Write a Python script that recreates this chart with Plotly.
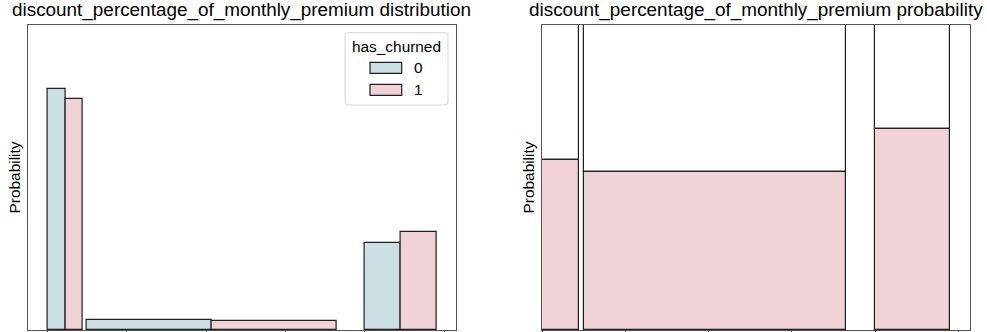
import plotly.graph_objects as go

# Discount bins (percent of monthly premium)
bin_lo = [0.0, 2.5, 20.0]
bin_hi = [2.25, 18.25, 24.5]

# Share of customers in each bin, per churn group
prob_stay = [0.712, 0.031, 0.256]    # has_churned = 0
prob_churn = [0.683, 0.027, 0.290]   # has_churned = 1

# Fraction of churned customers inside each bin
churn_share = [0.558, 0.518, 0.660]

x_ticks = [0, 5, 10, 15, 20, 25]
hue_labels = ["0", "1"]

BLUE = "rgb(202,222,227)"
PINK = "rgb(240,210,215)"
EDGE = "#1f1f1f"
SPINE = "#555555"
FONT = "Liberation Sans, Arial, sans-serif"

W, H = 987, 332
M_T, M_B = 25, 2

fig = go.Figure()

# Left panel: dodged histogram bars
widths = [hi - lo for lo, hi in zip(bin_lo, bin_hi)]
fig.add_trace(go.Bar(
    x=[lo + w / 4 for lo, w in zip(bin_lo, widths)],
    y=prob_stay,
    width=[w / 2 for w in widths],
    marker=dict(color=BLUE, line=dict(color=EDGE, width=1.2)),
    name=hue_labels[0], showlegend=False, xaxis="x", yaxis="y",
))
fig.add_trace(go.Bar(
    x=[lo + 3 * w / 4 for lo, w in zip(bin_lo, widths)],
    y=prob_churn,
    width=[w / 2 for w in widths],
    marker=dict(color=PINK, line=dict(color=EDGE, width=1.2)),
    name=hue_labels[1], showlegend=False, xaxis="x", yaxis="y",
))

# Right panel: filled (stacked to 1) bars
centers = [(lo + hi) / 2 for lo, hi in zip(bin_lo, bin_hi)]
fig.add_trace(go.Bar(
    x=centers, y=[1 - s for s in churn_share], base=churn_share, width=widths,
    marker=dict(color="white", line=dict(color=EDGE, width=1.2)),
    name=hue_labels[0], showlegend=False, xaxis="x2", yaxis="y2",
))
fig.add_trace(go.Bar(
    x=centers, y=churn_share, width=widths,
    marker=dict(color=PINK, line=dict(color=EDGE, width=1.2)),
    name=hue_labels[1], showlegend=False, xaxis="x2", yaxis="y2",
))

axis_common = dict(
    showgrid=False, zeroline=False, showline=True, mirror=True,
    linecolor=SPINE, linewidth=1.25, automargin=False,
)

fig.update_layout(
    width=W, height=H,
    margin=dict(l=0, r=0, t=M_T, b=M_B, pad=0, autoexpand=False),
    paper_bgcolor="white", plot_bgcolor="white",
    barmode="overlay", bargap=0,
    font=dict(family=FONT, color="#000000"),
    xaxis=dict(domain=[27.7 / W, 456 / W], range=[-1.24, 25.74],
               tickvals=x_ticks, ticks="outside", ticklen=4, tickwidth=1.2,
               tickcolor="#333333", showticklabels=False, anchor="y", **axis_common),
    yaxis=dict(domain=[0, 1], range=[0, 0.902], ticks="", showticklabels=False,
               anchor="x", title=dict(text="Probability", font=dict(size=15.4), standoff=2),
               **axis_common),
    xaxis2=dict(domain=[542 / W, 970 / W], range=[0, 25.7],
                tickvals=x_ticks, ticks="outside", ticklen=4, tickwidth=1.2,
                tickcolor="#333333", showticklabels=False, anchor="y2", **axis_common),
    yaxis2=dict(domain=[0, 1], range=[0, 1], ticks="", showticklabels=False,
                anchor="x2", title=dict(text="Probability", font=dict(size=15.4), standoff=2),
                **axis_common),
)

# Panel titles
for xdom, text in [((27.7 / W + 456 / W) / 2, "discount_percentage_of_monthly_premium distribution"),
                   ((542 / W + 970 / W) / 2, "discount_percentage_of_monthly_premium probability")]:
    fig.add_annotation(x=xdom, y=1, xref="paper", yref="paper", xanchor="center",
                       yanchor="bottom", yshift=2, showarrow=False, text=text,
                       font=dict(size=18.9, family=FONT, color="#000000"))

# Legend box for the left panel (matplotlib-style)
plot_h = H - M_T - M_B


def px(xp):
    return xp / W


def py(yp):
    return (H - M_B - yp) / plot_h


def rounded_rect(x0, y0, x1, y1, r):
    rx, ry = r / W, r / plot_h
    X0, X1 = px(x0), px(x1)
    Y0, Y1 = py(y0), py(y1)   # Y0 top, Y1 bottom
    return (f"M {X0 + rx} {Y0} L {X1 - rx} {Y0} Q {X1} {Y0} {X1} {Y0 - ry} "
            f"L {X1} {Y1 + ry} Q {X1} {Y1} {X1 - rx} {Y1} L {X0 + rx} {Y1} "
            f"Q {X0} {Y1} {X0} {Y1 + ry} L {X0} {Y0 - ry} Q {X0} {Y0} {X0 + rx} {Y0} Z")


fig.add_shape(type="path", xref="paper", yref="paper",
              path=rounded_rect(345, 32.7, 448, 105, 3),
              fillcolor="rgba(255,255,255,0.8)", line=dict(color="#d5d5d5", width=1))
fig.add_annotation(x=px(396.5), y=py(46.7), xref="paper", yref="paper",
                   xanchor="center", yanchor="middle", showarrow=False,
                   text="has_churned", font=dict(size=15.4, family=FONT, color="#000000"))
for (ytop, ybot), color, lab in [((62.3, 73.3), BLUE, hue_labels[0]),
                                  ((84.3, 95.3), PINK, hue_labels[1])]:
    fig.add_shape(type="rect", xref="paper", yref="paper",
                  x0=px(370), x1=px(401.7), y0=py(ybot), y1=py(ytop),
                  fillcolor=color, line=dict(color=EDGE, width=1.2))
    fig.add_annotation(x=px(412), y=py((ytop + ybot) / 2), xref="paper", yref="paper",
                       xanchor="left", yanchor="middle", showarrow=False, text=lab,
                       font=dict(size=15.4, family=FONT, color="#000000"))

fig.write_html("out.html")
